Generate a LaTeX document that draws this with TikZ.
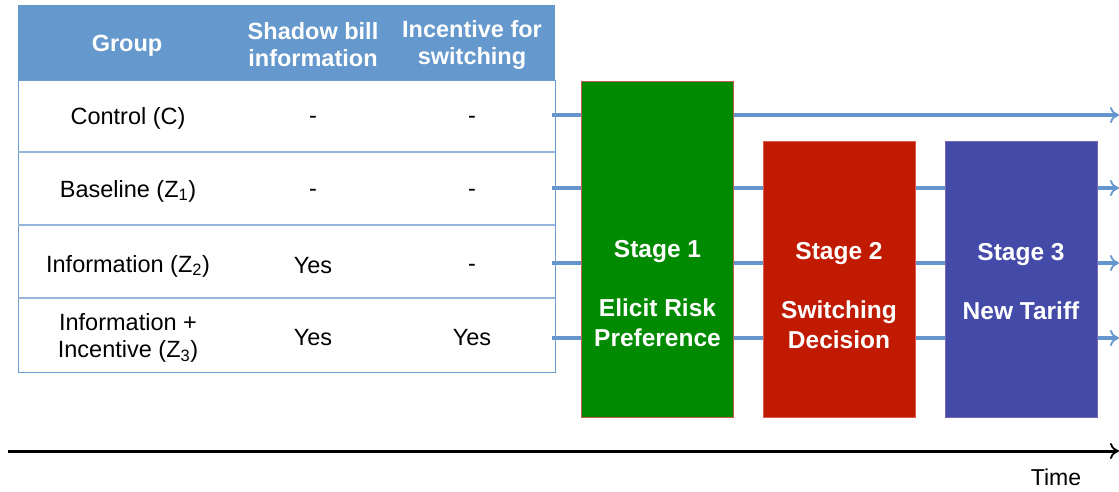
\documentclass[tikz,border=0pt]{standalone}
\usepackage{fontspec}
\setmainfont{Liberation Sans}
\usetikzlibrary{arrows.meta}
\definecolor{hdr}{RGB}{101,152,204}
\definecolor{tline}{RGB}{110,155,210}
\definecolor{rowl}{RGB}{150,180,220}
\definecolor{flow}{RGB}{100,150,205}
\definecolor{sgreen}{RGB}{0,138,0}
\definecolor{sred}{RGB}{192,26,0}
\definecolor{sblue}{RGB}{67,74,168}
\tikzset{
  cell/.style={font=\fontsize{23.5}{27}\selectfont, align=center, inner sep=0pt},
  hcell/.style={font=\fontsize{23.5}{27}\selectfont\bfseries, text=white, align=center, inner sep=0pt},
  stagebox/.style={minimum width=152pt, inner sep=0pt, line width=0.8pt, anchor=north west},
  stagetxt/.style={font=\fontsize{24.5}{30}\selectfont\bfseries, text=white, align=center, inner sep=0pt},
  flowline/.style={draw=flow, line width=3.2pt, -{To[length=9pt,width=16pt,line width=1.8pt]}},
}
\begin{document}
\begin{tikzpicture}[x=1pt,y=-1pt]
\useasboundingbox (0,0) rectangle (1119,491);
% flow lines (behind boxes)
\coordinate (s1) at (552,115); \coordinate (e1) at (1119,115);
\coordinate (s2) at (552,188); \coordinate (e2) at (1119,188);
\coordinate (s3) at (552,263); \coordinate (e3) at (1119,263);
\coordinate (s4) at (552,338); \coordinate (e4) at (1119,338);
\draw[flowline] (s1) -- (e1);
\draw[flowline] (s2) -- (e2);
\draw[flowline] (s3) -- (e3);
\draw[flowline] (s4) -- (e4);
% table
\fill[hdr] (18,5) rectangle (555,80);
\draw[tline, line width=1pt] (18,80) rectangle (555,372);
\draw[rowl, line width=1.4pt] (18,152) -- (555,152);
\draw[rowl, line width=1.4pt] (18,225) -- (555,225);
\draw[rowl, line width=1.4pt] (18,298) -- (555,298);
\node[hcell] (h1) at (127,46) {Group};
\node[hcell] (h2) at (313,45) {Shadow bill\\information};
\node[hcell] (h3) at (472,45) {Incentive for\\switching};
\node[cell] (r1a) at (128,118) {Control (C)};
\node[cell] (r1b) at (313,118) {\strut-};
\node[cell] (r1c) at (472,118) {\strut-};
\node[cell] (r2a) at (128,191) {Baseline (Z\textsubscript{1})};
\node[cell] (r2b) at (313,191) {\strut-};
\node[cell] (r2c) at (472,191) {\strut-};
\node[cell] (r3a) at (128,266) {Information (Z\textsubscript{2})};
\node[cell] (r3b) at (313,266) {Yes};
\node[cell] (r3c) at (472,266) {\strut-};
\node[cell] (r4a) at (128,338) {Information +\\Incentive (Z\textsubscript{3})};
\node[cell] (r4b) at (313,338) {Yes};
\node[cell] (r4c) at (472,338) {Yes};
% stage boxes
\node[stagebox, fill=sgreen, draw={rgb,255:red,200;green,90;blue,80}, minimum height=336pt] (st1) at (581,81) {};
\node[stagebox, fill=sred, draw={rgb,255:red,220;green,90;blue,80}, minimum height=276pt] (st2) at (763,141) {};
\node[stagebox, fill=sblue, draw={rgb,255:red,120;green,100;blue,180}, minimum height=276pt] (st3) at (945,141) {};
\node[stagetxt] (t1a) at (657.5,252) {Stage 1};
\node[stagetxt] (t1b) at (657.5,323) {Elicit Risk\\Preference};
\node[stagetxt] (t2a) at (839,254) {Stage 2};
\node[stagetxt] (t2b) at (839,325) {Switching\\Decision};
\node[stagetxt] (t3a) at (1021,255) {Stage 3};
\node[stagetxt] (t3b) at (1021,311) {New Tariff};
% time axis
\coordinate (ta) at (8,451); \coordinate (tb) at (1119,451);
\draw[black, line width=3pt, -{To[length=9pt,width=16pt,line width=1.8pt]}] (ta) -- (tb);
\node[font=\fontsize{23}{26}\selectfont, inner sep=0pt] (time) at (1056,477) {Time};
\end{tikzpicture}
\end{document}
